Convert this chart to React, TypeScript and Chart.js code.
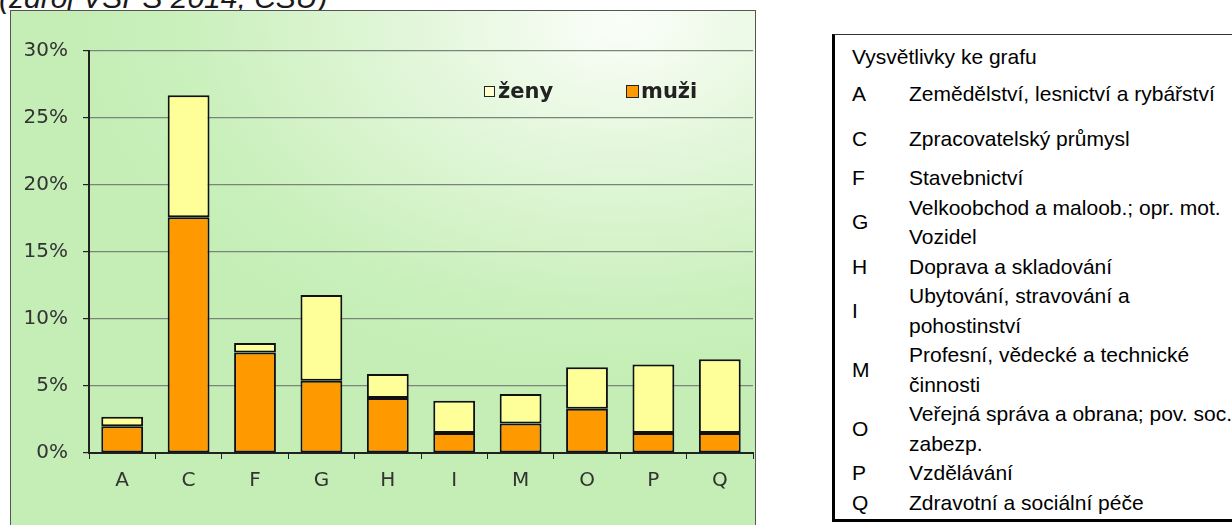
import React, { useEffect, useRef } from "react";
import { Chart, registerables } from "chart.js";

Chart.register(...registerables);

const categories = ["A", "C", "F", "G", "H", "I", "M", "O", "P", "Q"];
const muzi = [2.0, 17.6, 7.5, 5.4, 4.1, 1.5, 2.2, 3.3, 1.5, 1.5];
const zeny = [0.7, 9.1, 0.7, 6.4, 1.8, 2.4, 2.2, 3.1, 5.1, 5.5];
const yTicks = [0, 5, 10, 15, 20, 25, 30];

const seriesNames = ["ženy", "muži"];
const title = "(zdroj VŠPS 2014, ČSÚ)";
const panelTitle = "Vysvětlivky ke grafu";
const panelCodes = ["A", "C", "F", "G", "H", "I", "M", "O", "P", "Q"];
const panelTexts = [
  ["Zemědělství, lesnictví a rybářství"],
  ["Zpracovatelský průmysl"],
  ["Stavebnictví"],
  ["Velkoobchod a maloob.; opr. mot.", "Vozidel"],
  ["Doprava a skladování"],
  ["Ubytování, stravování a", "pohostinství"],
  ["Profesní, vědecké a technické", "činnosti"],
  ["Veřejná správa a obrana; pov. soc.", "zabezp."],
  ["Vzdělávání"],
  ["Zdravotní a sociální péče"],
];

const ORANGE = "#ff9900";
const YELLOW = "#ffff99";
const TEXT_FONT = "'Liberation Sans', Arial, sans-serif";
const CHART_FONT = "'DejaVu Sans', Verdana, sans-serif";

function BarChart() {
  const ref = useRef<HTMLCanvasElement | null>(null);
  useEffect(() => {
    if (!ref.current) return;
    const common = {
      borderColor: "#111",
      borderWidth: 2,
      borderSkipped: false,
      categoryPercentage: 1,
      barPercentage: 0.63,
      stack: "s",
    };
    const chart = new Chart(ref.current, {
      type: "bar",
      data: {
        labels: categories,
        datasets: [
          { label: seriesNames[1], data: muzi, backgroundColor: ORANGE, ...common },
          { label: seriesNames[0], data: zeny, backgroundColor: YELLOW, ...common },
        ],
      },
      options: {
        animation: false,
        responsive: false,
        maintainAspectRatio: false,
        layout: { padding: { left: 0, top: 41, right: 3, bottom: 22 } },
        plugins: { legend: { display: false }, tooltip: { enabled: false } },
        scales: {
          x: {
            stacked: true,
            afterFit: (s: any) => {
              s.height = 50;
            },
            grid: {
              drawOnChartArea: false,
              drawTicks: true,
              tickLength: 6,
              tickColor: "#222",
              offset: true,
            },
            border: { display: true, color: "#222", width: 2 },
            ticks: {
              color: "#333",
              padding: 10,
              font: { family: CHART_FONT, size: 20 },
            },
          },
          y: {
            stacked: true,
            min: 0,
            max: 30,
            afterFit: (s: any) => {
              s.width = 79;
            },
            afterBuildTicks: (s: any) => {
              s.ticks = yTicks.map((v) => ({ value: v }));
            },
            grid: {
              color: "#788578",
              lineWidth: 1.2,
              drawTicks: true,
              tickLength: 6,
              tickColor: "#222",
            },
            border: { display: true, color: "#222", width: 2 },
            ticks: {
              color: "#333",
              padding: 15,
              font: { family: CHART_FONT, size: 20 },
              callback: (v: any) => v + "%",
            },
          },
        },
      },
    });
    return () => chart.destroy();
  }, []);
  return <canvas ref={ref} width={746} height={515} style={{ display: "block" }} />;
}

export default function App() {
  const pitch = 29.5;
  const rows: { code: string; lines: string[]; top: number }[] = [];
  let y = 178;
  panelCodes.forEach((c, i) => {
    const lines = panelTexts[i];
    let top: number;
    if (i === 0) top = 94;
    else if (i === 1) top = 139;
    else {
      top = y;
      y += pitch * lines.length;
    }
    rows.push({ code: c, lines, top });
  });

  const textStyle = {
    position: "absolute" as const,
    fontSize: 21,
    lineHeight: "24px",
    color: "#000",
    whiteSpace: "nowrap" as const,
  };

  return (
    <div
      style={{
        position: "absolute",
        left: 0,
        top: 0,
        width: 1232,
        height: 525,
        overflow: "hidden",
        background: "#ffffff",
        fontFamily: TEXT_FONT,
      }}
    >
      <div
        style={{
          position: "absolute",
          left: -1,
          top: -17,
          fontSize: 30,
          lineHeight: "30px",
          fontStyle: "italic",
          color: "#1a1a1a",
          whiteSpace: "nowrap",
        }}
      >
        {title}
      </div>
      <div
        style={{
          position: "absolute",
          left: 10,
          top: 10,
          width: 746,
          height: 530,
          boxSizing: "border-box",
          border: "1.5px solid #555",
          background:
            "radial-gradient(ellipse 75% 70% at 82% 2%, #fbfef9 0%, #e4f7dc 35%, #c9f0bb 80%, #c4eeb6 100%)",
        }}
      />
      <div style={{ position: "absolute", left: 10, top: 10 }}>
        <BarChart />
      </div>
      {/* legend */}
      <div
        style={{
          position: "absolute",
          left: 484,
          top: 78,
          height: 26,
          display: "flex",
          alignItems: "center",
          fontFamily: CHART_FONT,
          fontWeight: "bold",
          fontSize: 21,
          color: "#222",
          whiteSpace: "nowrap",
        }}
      >
        <span
          style={{
            display: "inline-block",
            width: 9,
            height: 9,
            border: "1.5px solid #222",
            background: "#ffffd0",
            marginRight: 3,
          }}
        />
        <span style={{ width: 128 }}>{seriesNames[0]}</span>
        <span
          style={{
            display: "inline-block",
            width: 11,
            height: 11,
            border: "1.5px solid #222",
            background: ORANGE,
            marginRight: 2,
          }}
        />
        <span>{seriesNames[1]}</span>
      </div>
      {/* explanation panel */}
      <div
        style={{
          position: "absolute",
          left: 832,
          top: 34,
          width: 430,
          height: 488,
          boxSizing: "border-box",
          borderLeft: "3px solid #000",
          borderBottom: "3px solid #000",
          borderTop: "1.5px solid #333",
        }}
      />
      <div style={{ ...textStyle, left: 852, top: 57 - 12 }}>{panelTitle}</div>
      {rows.map((r) => (
        <div key={r.code}>
          <div
            style={{
              ...textStyle,
              left: 852,
              top: r.top + ((r.lines.length - 1) * pitch) / 2 - 12,
            }}
          >
            {r.code}
          </div>
          {r.lines.map((t, j) => (
            <div key={j} style={{ ...textStyle, left: 909, top: r.top + j * pitch - 12 }}>
              {t}
            </div>
          ))}
        </div>
      ))}
    </div>
  );
}
